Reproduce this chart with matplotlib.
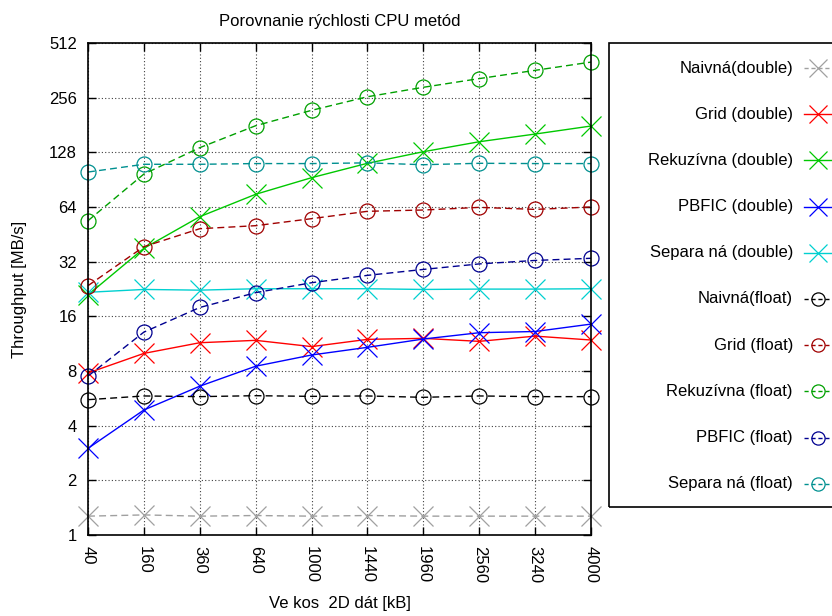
import matplotlib
matplotlib.use("Agg")
import matplotlib.pyplot as plt
from matplotlib.lines import Line2D
from matplotlib.patches import Rectangle
from matplotlib.ticker import FixedLocator, FixedFormatter, NullLocator

plt.rcParams["font.family"] = ["Liberation Sans", "DejaVu Sans"]
plt.rcParams["font.size"] = 12

sizes = ["40", "160", "360", "640", "1000", "1440", "1960", "2560", "3240", "4000"]

naivna_double = [1.27, 1.29, 1.27, 1.28, 1.27, 1.28, 1.27, 1.27, 1.27, 1.27]
grid_double = [7.8, 10.0, 11.45, 11.8, 10.9, 11.95, 12.1, 11.65, 12.45, 11.85]
rekur_double = [21.0, 37.9, 56.6, 75.2, 92.8, 111.4, 129.0, 146.4, 161.4, 178.7]
pbfic_double = [3.0, 4.88, 6.6, 8.5, 9.8, 10.8, 12.0, 13.0, 13.2, 14.5]
separ_double = [21.7, 22.5, 22.3, 22.7, 22.7, 22.7, 22.5, 22.6, 22.6, 22.7]

naivna_float = [5.56, 5.83, 5.78, 5.85, 5.8, 5.83, 5.73, 5.83, 5.78, 5.78]
grid_float = [23.6, 38.7, 48.6, 50.5, 55.2, 60.6, 61.6, 63.7, 62.1, 64.0]
rekur_float = [53.8, 97.2, 135.8, 179.4, 218.0, 259.0, 292.0, 326.0, 362.0, 402.0]
pbfic_float = [7.5, 13.1, 17.9, 21.6, 24.5, 26.9, 29.0, 31.1, 32.5, 33.4]
separ_float = [99.7, 110.0, 110.0, 111.0, 111.0, 112.0, 109.4, 111.4, 111.0, 111.0]

labels = [
    "Naivná(double)", "Grid (double)", "Rekuzívna (double)", "PBFIC (double)", "Separa ná (double)",
    "Naivná(float)", "Grid (float)", "Rekuzívna (float)", "PBFIC (float)", "Separa ná (float)",
]
series = [
    naivna_double, grid_double, rekur_double, pbfic_double, separ_double,
    naivna_float, grid_float, rekur_float, pbfic_float, separ_float,
]
colors = [
    "#a0a0a0", "#ff0000", "#00c800", "#0000ff", "#00d0d0",
    "#000000", "#a00000", "#00a000", "#000090", "#009090",
]
markers = ["x", "x", "x", "x", "x", "o", "o", "o", "o", "o"]
dashed = [True, False, False, False, False, True, True, True, True, True]

W, H = 832, 616
fig = plt.figure(figsize=(W / 100, H / 100), dpi=100)
ax = fig.add_axes([88 / W, 81 / H, 503 / W, 492 / H])

xs = list(range(len(sizes)))
for vals, lab, col, mk, ds in zip(series, labels, colors, markers, dashed):
    ms = 14.4 if mk == "x" else 10.8
    ax.plot(
        xs, vals, color=col, lw=1.0, marker=mk, markersize=ms,
        markerfacecolor="none", markeredgewidth=0.9, label=lab,
        linestyle=(0, (5, 3)) if ds else "-", clip_on=False,
    )

ax.set_yscale("log", base=2)
ax.set_ylim(1, 512)
ax.set_xlim(0, len(sizes) - 1)
yt = [1, 2, 4, 8, 16, 32, 64, 128, 256, 512]
ax.yaxis.set_major_locator(FixedLocator(yt))
ax.yaxis.set_major_formatter(FixedFormatter([str(v) for v in yt]))
ax.yaxis.set_minor_locator(NullLocator())
ax.set_xticks(xs)
ax.set_xticklabels(sizes, rotation=270)

ax.tick_params(direction="in", length=6, width=1, top=True, right=True, pad=8)
ax.grid(True, linestyle=(0, (1, 2)), color="#404040", lw=0.8)
for sp in ax.spines.values():
    sp.set_linewidth(1.2)

ax.set_title("Porovnanie rýchlosti CPU metód", fontsize=12, pad=12)
ax.set_ylabel("Throughput [MB/s]", labelpad=16)
ax.set_xlabel("Ve kos  2D dát [kB]", labelpad=9)

# gnuplot-style key: text right aligned, sample on the right, box runs off the page
fig.add_artist(Rectangle((609 / W, 1 - 507 / H), 240 / W, 464 / H,
                         transform=fig.transFigure, fill=False, ec="black", lw=1.2))
for i, (lab, col, mk, ds) in enumerate(zip(labels, colors, markers, dashed)):
    yy = 1 - (68 + i * 46.2) / H
    fig.text(793 / W, yy, lab, ha="right", va="center", fontsize=12)
    ms = 12.5 if mk == "x" else 9.5
    fig.add_artist(Line2D([804 / W, 832 / W], [yy, yy], transform=fig.transFigure,
                          color=col, lw=1.0, linestyle=(0, (3, 2)) if ds else "-"))
    fig.add_artist(Line2D([818 / W], [yy], transform=fig.transFigure, color=col,
                          marker=mk, markersize=ms, markerfacecolor="none",
                          markeredgewidth=0.9, linestyle="none"))

fig.savefig("out.png", dpi=100)
